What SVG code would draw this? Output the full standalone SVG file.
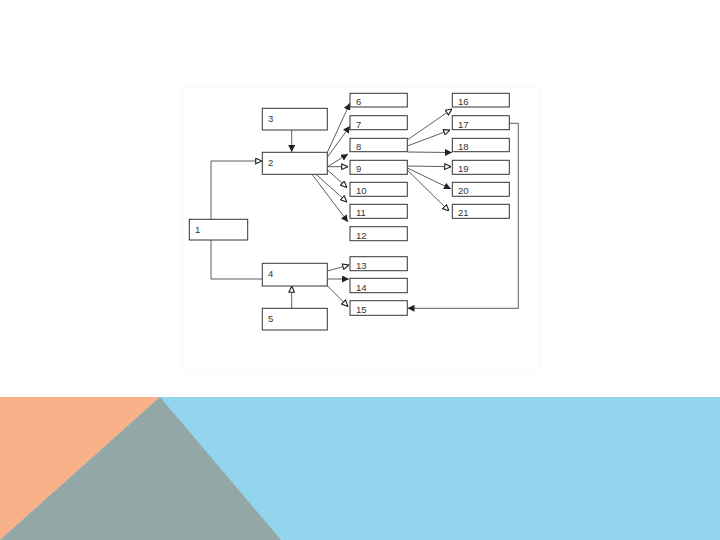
<svg xmlns="http://www.w3.org/2000/svg" width="720" height="540" viewBox="0 0 720 540">
<style>
.b{fill:#fff;stroke:#333;stroke-width:1}
.t{font-family:"Liberation Sans",Arial,sans-serif;font-size:9.5px;fill:#333}
.c{fill:none;stroke:#333;stroke-width:0.8}
</style>
<defs>
<marker id="af" viewBox="0 0 10 10" refX="10" refY="5" markerWidth="7" markerHeight="7" markerUnits="userSpaceOnUse" orient="auto"><path d="M0,0L10,5L0,10z" fill="#222"/></marker>
<marker id="ao" viewBox="0 0 10 10" refX="10" refY="5" markerWidth="7" markerHeight="7" markerUnits="userSpaceOnUse" orient="auto"><path d="M1,1L10,5L1,9z" fill="#fff" stroke="#222" stroke-width="1.6"/></marker>
</defs>
<rect width="720" height="540" fill="#fff"/>
<rect x="182" y="87" width="358" height="283" fill="#fff" stroke="#f7f9f6" stroke-width="1"/>
<g id="background">
<rect x="0" y="397" width="720" height="143" fill="#94d5ee"/>
<polygon points="0,397 160,397 0,540" fill="#f9b189"/>
<polygon points="160,397 281,540 0,540" fill="#93a8a6"/>
</g>
<g id="connectors">
<polyline class="c" points="211,219 211,161 262,161" marker-end="url(#ao)"/>
<polyline class="c" points="211,240 211,279 262,279"/>
<line class="c" x1="291.7" y1="130" x2="291.7" y2="152" marker-end="url(#af)"/>
<line class="c" x1="291.7" y1="308" x2="291.7" y2="286" marker-end="url(#ao)"/>
<line class="c" x1="327.5" y1="152" x2="350" y2="103" marker-end="url(#af)"/>
<line class="c" x1="327.5" y1="157" x2="350" y2="126" marker-end="url(#af)"/>
<line class="c" x1="327.5" y1="166.7" x2="348" y2="154" marker-end="url(#af)"/>
<line class="c" x1="327.5" y1="166.7" x2="348" y2="166.7" marker-end="url(#ao)"/>
<line class="c" x1="327.5" y1="170" x2="347" y2="187.5" marker-end="url(#ao)"/>
<line class="c" x1="316" y1="174.3" x2="347" y2="202" marker-end="url(#ao)"/>
<line class="c" x1="312" y1="174.3" x2="348" y2="222" marker-end="url(#af)"/>
<line class="c" x1="407.3" y1="140" x2="452" y2="109" marker-end="url(#ao)"/>
<line class="c" x1="407.3" y1="146" x2="450" y2="130" marker-end="url(#ao)"/>
<line class="c" x1="407.3" y1="152" x2="452" y2="152.5" marker-end="url(#af)"/>
<line class="c" x1="407.3" y1="166" x2="451" y2="166.7" marker-end="url(#ao)"/>
<line class="c" x1="407.3" y1="168" x2="451" y2="189" marker-end="url(#af)"/>
<line class="c" x1="407.3" y1="170" x2="449" y2="211" marker-end="url(#ao)"/>
<line class="c" x1="327.5" y1="271" x2="349" y2="265" marker-end="url(#ao)"/>
<line class="c" x1="327.5" y1="279" x2="349" y2="279" marker-end="url(#af)"/>
<line class="c" x1="327.5" y1="286" x2="348" y2="306.5" marker-end="url(#ao)"/>
<polyline class="c" points="509.3,123.3 518.3,123.3 518.3,308.3 407.5,308.3" marker-end="url(#af)"/>
</g>
<g id="n1"><rect class="b" x="189.3" y="219.3" width="58.4" height="20.7"/><text class="t" x="195" y="233">1</text></g>
<g id="n2"><rect class="b" x="262.3" y="152.3" width="65" height="22"/><text class="t" x="268" y="166">2</text></g>
<g id="n3"><rect class="b" x="262.3" y="108.3" width="65" height="21.7"/><text class="t" x="268" y="122">3</text></g>
<g id="n4"><rect class="b" x="262.3" y="263.3" width="65" height="22.7"/><text class="t" x="268" y="277">4</text></g>
<g id="n5"><rect class="b" x="262.3" y="308.3" width="65" height="21.7"/><text class="t" x="268" y="322">5</text></g>
<g id="n6"><rect class="b" x="350" y="93.3" width="57.3" height="13.7"/><text class="t" x="356" y="105">6</text></g>
<g id="n7"><rect class="b" x="350" y="115.7" width="57.3" height="14"/><text class="t" x="356" y="128">7</text></g>
<g id="n8"><rect class="b" x="350" y="138.3" width="57.3" height="13.4"/><text class="t" x="356" y="150">8</text></g>
<g id="n9"><rect class="b" x="350" y="160.3" width="57.3" height="14"/><text class="t" x="356" y="172">9</text></g>
<g id="n10"><rect class="b" x="350" y="182.3" width="57.3" height="14"/><text class="t" x="356" y="194">10</text></g>
<g id="n11"><rect class="b" x="350" y="204.3" width="57.3" height="14"/><text class="t" x="356" y="216">11</text></g>
<g id="n12"><rect class="b" x="350" y="226.7" width="57.3" height="14"/><text class="t" x="356" y="239">12</text></g>
<g id="n13"><rect class="b" x="350" y="256.7" width="57.3" height="14"/><text class="t" x="356" y="269">13</text></g>
<g id="n14"><rect class="b" x="350" y="278.3" width="57.3" height="14.4"/><text class="t" x="356" y="291">14</text></g>
<g id="n15"><rect class="b" x="350" y="300.7" width="57.3" height="14.6"/><text class="t" x="356" y="313">15</text></g>
<g id="n16"><rect class="b" x="452.3" y="93.3" width="57" height="13.7"/><text class="t" x="458" y="105">16</text></g>
<g id="n17"><rect class="b" x="452.3" y="115.7" width="57" height="14"/><text class="t" x="458" y="128">17</text></g>
<g id="n18"><rect class="b" x="452.3" y="138.3" width="57" height="13.4"/><text class="t" x="458" y="150">18</text></g>
<g id="n19"><rect class="b" x="452.3" y="160.3" width="57" height="14"/><text class="t" x="458" y="172">19</text></g>
<g id="n20"><rect class="b" x="452.3" y="182.3" width="57" height="14"/><text class="t" x="458" y="194">20</text></g>
<g id="n21"><rect class="b" x="452.3" y="204.3" width="57" height="14"/><text class="t" x="458" y="216">21</text></g>
</svg>
